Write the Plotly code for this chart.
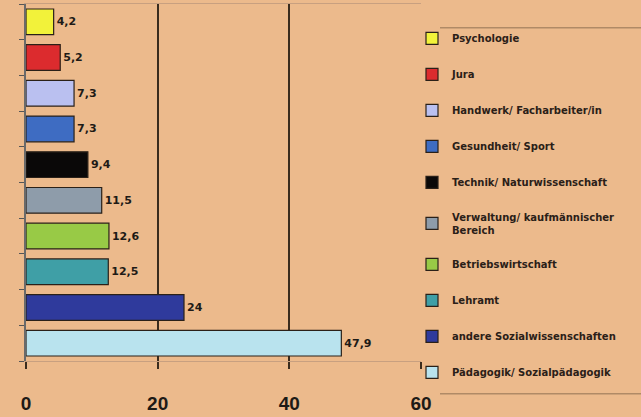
import plotly.graph_objects as go

categories = ["Psychologie", "Jura", "Handwerk/ Facharbeiter/in", "Gesundheit/ Sport",
              "Technik/ Naturwissenschaft", "Verwaltung/ kaufmännischer<br>Bereich",
              "Betriebswirtschaft", "Lehramt", "andere Sozialwissenschaften",
              "Pädagogik/ Sozialpädagogik"]
values = [4.2, 5.2, 7.3, 7.3, 9.4, 11.5, 12.6, 12.5, 24, 47.9]
colors = ["#F2F23A", "#DC2B2E", "#BAC0F0", "#3E6CC2", "#0A0808", "#8E9CAA",
          "#98CA46", "#3F9FA6", "#2F3A9C", "#B9E3EE"]
x_ticks = [0, 20, 40, 60]

BG = "#ECBA8C"
W, H = 641, 417
L, R, T, B = 26, 220, 3, 54
pw, ph = W - L - R, H - T - B

def px(x):
    return (x - L) / pw

def py(y):
    return (H - B - y) / ph

fig = go.Figure()
for i, (c, v, col) in enumerate(zip(categories, values, colors)):
    lab = (f"{v:g}").replace(".", ",")
    fig.add_trace(go.Bar(
        y=[str(i)], x=[v], orientation="h", name=c,
        marker=dict(color=col, line=dict(color="#2a2018", width=1.2)),
        text=[lab], textposition="outside", cliponaxis=False,
        textfont=dict(family="DejaVu Sans", size=11, color="#1e1a16", weight="bold"),
        legendgroup=str(i),
    ))

fig.update_layout(
    width=W, height=H, paper_bgcolor=BG, plot_bgcolor=BG,
    margin=dict(l=L, r=R, t=T, b=B),
    barmode="overlay", bargap=0.28,
    showlegend=True,
    legend=dict(x=px(412), y=py(23), xanchor="left", yanchor="top",
                font=dict(family="DejaVu Sans", size=10, color="#2a2018", weight="bold"),
                tracegroupgap=17, itemwidth=30, bgcolor="rgba(0,0,0,0)", maxheight=420),
    xaxis=dict(range=[0, 60], tickvals=x_ticks, showgrid=True, gridcolor="#3a2c1e", gridwidth=1.5,
               zeroline=False, ticks="outside", ticklen=7, tickcolor="#3a2c1e", tickwidth=1.5,
               tickfont=dict(family="Liberation Sans", size=19, color="#1e1a16", weight="bold"),
               ticklabelstandoff=18, showline=True, linecolor="#c8a080", mirror=True, linewidth=1),
    yaxis=dict(categoryorder="array", categoryarray=[str(i) for i in range(len(categories))][::-1],
               showticklabels=False, ticks="outside", ticklen=5, tickcolor="#555", tickson="boundaries",
               showline=True, linecolor="#6a6a6a", linewidth=1.5, showgrid=False),
    shapes=[
        dict(type="line", xref="paper", yref="paper", x0=px(440), x1=px(641), y0=py(27), y1=py(27),
             line=dict(color="#b08a66", width=1.5)),
        dict(type="line", xref="paper", yref="paper", x0=px(440), x1=px(641), y0=py(396), y1=py(396),
             line=dict(color="#b08a66", width=1.5)),
    ],
)

fig.write_html("out.html")
